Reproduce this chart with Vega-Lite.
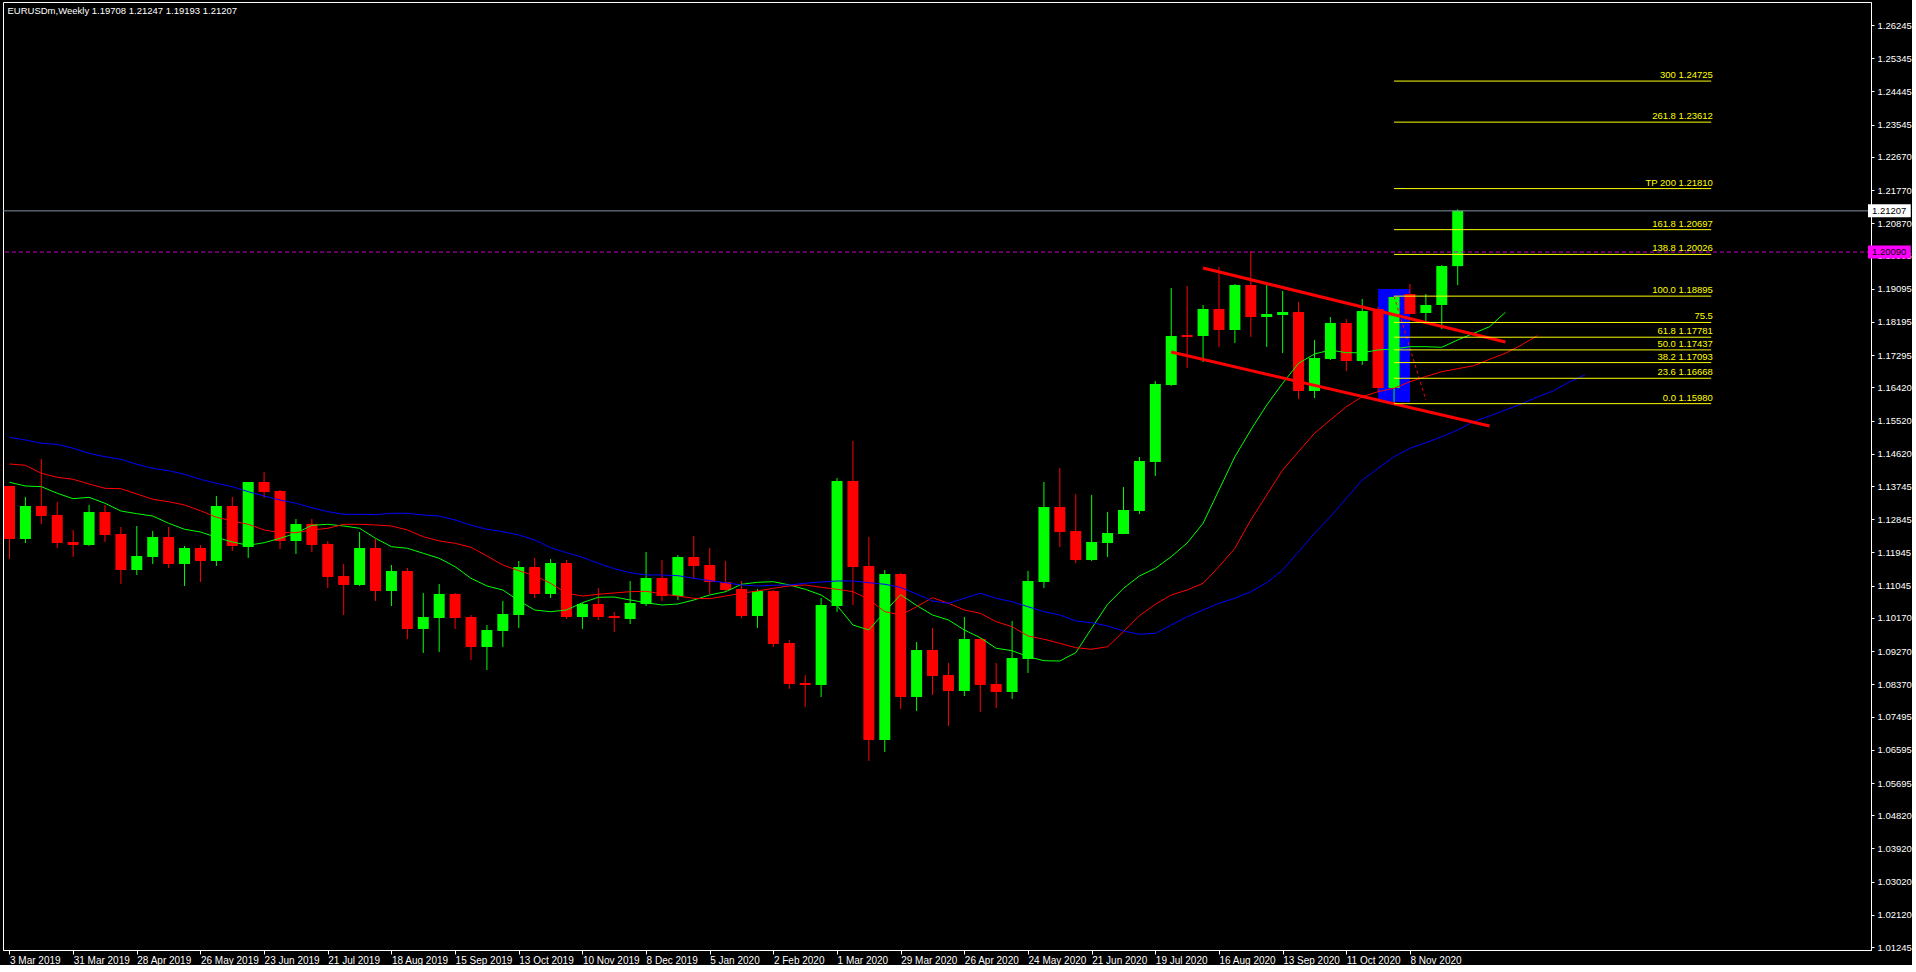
{
  "$schema": "https://vega.github.io/schema/vega-lite/v6.json",
  "width": 1868,
  "height": 948,
  "padding": {"left": 2, "top": 2, "right": 0, "bottom": 0},
  "background": "#000000",
  "config": {
    "view": {"stroke": "#ffffff", "strokeWidth": 1},
    "axis": {"domainColor": "#ffffff", "tickColor": "#ffffff", "labelColor": "#ffffff", "labelFont": "Liberation Sans", "labelFontSize": 9.5, "grid": false, "labelOverlap": false, "labelFlush": false, "labelSeparation": 0}
  },
  "title": {"text": "EURUSDm,Weekly  1.19708 1.21247 1.19193 1.21207", "anchor": "start", "orient": "top", "offset": -13, "dx": 5, "font": "Liberation Sans", "fontSize": 9.5, "fontWeight": "normal", "color": "#ffffff"},
  "datasets": {
    "candles": [
      {"d":"2019-03-03","o":1.13748,"h":1.13748,"l":1.11768,"c":1.12311},
      {"d":"2019-03-10","o":1.12311,"h":1.13449,"l":1.12202,"c":1.13205},
      {"d":"2019-03-17","o":1.13205,"h":1.14480,"l":1.12717,"c":1.12934},
      {"d":"2019-03-24","o":1.12961,"h":1.13314,"l":1.12067,"c":1.12202},
      {"d":"2019-03-31","o":1.12229,"h":1.12555,"l":1.11823,"c":1.12148},
      {"d":"2019-04-07","o":1.12148,"h":1.13232,"l":1.12121,"c":1.13043},
      {"d":"2019-04-14","o":1.13043,"h":1.13232,"l":1.12229,"c":1.12419},
      {"d":"2019-04-21","o":1.12446,"h":1.12636,"l":1.11091,"c":1.11470},
      {"d":"2019-04-28","o":1.11470,"h":1.12663,"l":1.11335,"c":1.11850},
      {"d":"2019-05-05","o":1.11823,"h":1.12528,"l":1.11633,"c":1.12365},
      {"d":"2019-05-12","o":1.12365,"h":1.12636,"l":1.11525,"c":1.11633},
      {"d":"2019-05-19","o":1.11633,"h":1.12121,"l":1.11037,"c":1.12067},
      {"d":"2019-05-26","o":1.12067,"h":1.12148,"l":1.11145,"c":1.11714},
      {"d":"2019-06-02","o":1.11714,"h":1.13476,"l":1.11579,"c":1.13205},
      {"d":"2019-06-09","o":1.13205,"h":1.13449,"l":1.11985,"c":1.12121},
      {"d":"2019-06-16","o":1.12094,"h":1.13856,"l":1.11796,"c":1.13856},
      {"d":"2019-06-23","o":1.13856,"h":1.14127,"l":1.13422,"c":1.13585},
      {"d":"2019-06-30","o":1.13612,"h":1.13639,"l":1.12040,"c":1.12257},
      {"d":"2019-07-07","o":1.12257,"h":1.12853,"l":1.11904,"c":1.12717},
      {"d":"2019-07-14","o":1.12717,"h":1.12853,"l":1.11958,"c":1.12148},
      {"d":"2019-07-21","o":1.12175,"h":1.12257,"l":1.10982,"c":1.11281},
      {"d":"2019-07-28","o":1.11308,"h":1.11633,"l":1.10250,"c":1.11064},
      {"d":"2019-08-04","o":1.11064,"h":1.12501,"l":1.11037,"c":1.12067},
      {"d":"2019-08-11","o":1.12067,"h":1.12311,"l":1.10630,"c":1.10901},
      {"d":"2019-08-18","o":1.10901,"h":1.11606,"l":1.10494,"c":1.11443},
      {"d":"2019-08-25","o":1.11443,"h":1.11525,"l":1.09600,"c":1.09871},
      {"d":"2019-09-01","o":1.09871,"h":1.10847,"l":1.09220,"c":1.10196},
      {"d":"2019-09-08","o":1.10169,"h":1.11091,"l":1.09247,"c":1.10820},
      {"d":"2019-09-15","o":1.10820,"h":1.10847,"l":1.09871,"c":1.10169},
      {"d":"2019-09-22","o":1.10196,"h":1.10250,"l":1.09030,"c":1.09383},
      {"d":"2019-09-29","o":1.09383,"h":1.09979,"l":1.08759,"c":1.09844},
      {"d":"2019-10-06","o":1.09817,"h":1.10630,"l":1.09383,"c":1.10278},
      {"d":"2019-10-13","o":1.10250,"h":1.11714,"l":1.09898,"c":1.11552},
      {"d":"2019-10-20","o":1.11552,"h":1.11796,"l":1.10711,"c":1.10820},
      {"d":"2019-10-27","o":1.10820,"h":1.11768,"l":1.10711,"c":1.11660},
      {"d":"2019-11-03","o":1.11660,"h":1.11741,"l":1.10142,"c":1.10196},
      {"d":"2019-11-10","o":1.10196,"h":1.10576,"l":1.09871,"c":1.10549},
      {"d":"2019-11-17","o":1.10549,"h":1.10982,"l":1.10115,"c":1.10196},
      {"d":"2019-11-24","o":1.10223,"h":1.10332,"l":1.09790,"c":1.10169},
      {"d":"2019-12-01","o":1.10142,"h":1.11172,"l":1.10006,"c":1.10576},
      {"d":"2019-12-08","o":1.10549,"h":1.11958,"l":1.10494,"c":1.11253},
      {"d":"2019-12-15","o":1.11253,"h":1.11741,"l":1.10630,"c":1.10765},
      {"d":"2019-12-22","o":1.10765,"h":1.11877,"l":1.10657,"c":1.11823},
      {"d":"2019-12-29","o":1.11823,"h":1.12392,"l":1.11226,"c":1.11579},
      {"d":"2020-01-05","o":1.11606,"h":1.12067,"l":1.10820,"c":1.11145},
      {"d":"2020-01-12","o":1.11145,"h":1.11714,"l":1.10874,"c":1.10928},
      {"d":"2020-01-19","o":1.10955,"h":1.11172,"l":1.10169,"c":1.10223},
      {"d":"2020-01-26","o":1.10223,"h":1.10955,"l":1.09898,"c":1.10901},
      {"d":"2020-02-02","o":1.10901,"h":1.10928,"l":1.09383,"c":1.09464},
      {"d":"2020-02-09","o":1.09491,"h":1.09573,"l":1.08244,"c":1.08380},
      {"d":"2020-02-16","o":1.08407,"h":1.08624,"l":1.07756,"c":1.08353},
      {"d":"2020-02-23","o":1.08353,"h":1.10711,"l":1.08027,"c":1.10521},
      {"d":"2020-03-01","o":1.10494,"h":1.13964,"l":1.10332,"c":1.13883},
      {"d":"2020-03-08","o":1.13883,"h":1.14968,"l":1.10521,"c":1.11552},
      {"d":"2020-03-15","o":1.11579,"h":1.12365,"l":1.06292,"c":1.06862},
      {"d":"2020-03-22","o":1.06862,"h":1.11470,"l":1.06536,"c":1.11362},
      {"d":"2020-03-29","o":1.11362,"h":1.11389,"l":1.07702,"c":1.08027},
      {"d":"2020-04-05","o":1.08027,"h":1.09518,"l":1.07648,"c":1.09302},
      {"d":"2020-04-12","o":1.09302,"h":1.09898,"l":1.08082,"c":1.08597},
      {"d":"2020-04-19","o":1.08624,"h":1.08949,"l":1.07241,"c":1.08190},
      {"d":"2020-04-26","o":1.08190,"h":1.10196,"l":1.08054,"c":1.09600},
      {"d":"2020-05-03","o":1.09600,"h":1.09627,"l":1.07621,"c":1.08353},
      {"d":"2020-05-10","o":1.08380,"h":1.08949,"l":1.07729,"c":1.08163},
      {"d":"2020-05-17","o":1.08163,"h":1.10088,"l":1.07973,"c":1.09085},
      {"d":"2020-05-24","o":1.09058,"h":1.11443,"l":1.08678,"c":1.11172},
      {"d":"2020-05-31","o":1.11145,"h":1.13856,"l":1.10982,"c":1.13178},
      {"d":"2020-06-07","o":1.13178,"h":1.14236,"l":1.12094,"c":1.12501},
      {"d":"2020-06-14","o":1.12528,"h":1.13531,"l":1.11660,"c":1.11741},
      {"d":"2020-06-21","o":1.11741,"h":1.13504,"l":1.11714,"c":1.12229},
      {"d":"2020-06-28","o":1.12202,"h":1.13043,"l":1.11823,"c":1.12473},
      {"d":"2020-07-05","o":1.12446,"h":1.13720,"l":1.12446,"c":1.13097},
      {"d":"2020-07-12","o":1.13070,"h":1.14534,"l":1.12989,"c":1.14425},
      {"d":"2020-07-19","o":1.14398,"h":1.16594,"l":1.14019,"c":1.16513},
      {"d":"2020-07-26","o":1.16486,"h":1.19115,"l":1.16459,"c":1.17814},
      {"d":"2020-08-02","o":1.17841,"h":1.19170,"l":1.16947,"c":1.17787},
      {"d":"2020-08-09","o":1.17814,"h":1.18654,"l":1.17109,"c":1.18546},
      {"d":"2020-08-16","o":1.18546,"h":1.19685,"l":1.17516,"c":1.17977},
      {"d":"2020-08-23","o":1.17977,"h":1.19224,"l":1.17624,"c":1.19197},
      {"d":"2020-08-30","o":1.19197,"h":1.20118,"l":1.17787,"c":1.18329},
      {"d":"2020-09-06","o":1.18329,"h":1.19197,"l":1.17516,"c":1.18410},
      {"d":"2020-09-13","o":1.18383,"h":1.19034,"l":1.17353,"c":1.18465},
      {"d":"2020-09-20","o":1.18465,"h":1.18736,"l":1.16106,"c":1.16323},
      {"d":"2020-09-27","o":1.16323,"h":1.17706,"l":1.16133,"c":1.17218},
      {"d":"2020-10-04","o":1.17191,"h":1.18329,"l":1.17164,"c":1.18167},
      {"d":"2020-10-11","o":1.18167,"h":1.18275,"l":1.16865,"c":1.17136},
      {"d":"2020-10-18","o":1.17136,"h":1.18817,"l":1.17028,"c":1.18492},
      {"d":"2020-10-25","o":1.18546,"h":1.18600,"l":1.16296,"c":1.16404},
      {"d":"2020-11-01","o":1.16404,"h":1.18895,"l":1.15980,"c":1.18870},
      {"d":"2020-11-08","o":1.18953,"h":1.19224,"l":1.18410,"c":1.18410},
      {"d":"2020-11-15","o":1.18438,"h":1.18953,"l":1.18194,"c":1.18654},
      {"d":"2020-11-22","o":1.18654,"h":1.19739,"l":1.18004,"c":1.19712},
      {"d":"2020-11-29","o":1.19708,"h":1.21247,"l":1.19193,"c":1.21207}
    ],
    "alligator": [
      {"d":"2019-03-03","g":1.13848,"r":1.14344,"b":1.15068},
      {"d":"2019-03-10","g":1.13748,"r":1.14309,"b":1.14995},
      {"d":"2019-03-17","g":1.13729,"r":1.14092,"b":1.14905},
      {"d":"2019-03-24","g":1.13550,"r":1.13983,"b":1.14878},
      {"d":"2019-03-31","g":1.13403,"r":1.13929,"b":1.14770},
      {"d":"2019-04-07","g":1.13441,"r":1.13802,"b":1.14634},
      {"d":"2019-04-14","g":1.13279,"r":1.13685,"b":1.14542},
      {"d":"2019-04-21","g":1.13070,"r":1.13674,"b":1.14471},
      {"d":"2019-04-28","g":1.12997,"r":1.13531,"b":1.14336},
      {"d":"2019-05-05","g":1.12934,"r":1.13387,"b":1.14227},
      {"d":"2019-05-12","g":1.12736,"r":1.13322,"b":1.14162},
      {"d":"2019-05-19","g":1.12574,"r":1.13232,"b":1.14065},
      {"d":"2019-05-26","g":1.12501,"r":1.13078,"b":1.13929},
      {"d":"2019-06-02","g":1.12357,"r":1.12899,"b":1.13821},
      {"d":"2019-06-09","g":1.12229,"r":1.12799,"b":1.13729},
      {"d":"2019-06-16","g":1.12140,"r":1.12709,"b":1.13593},
      {"d":"2019-06-23","g":1.12210,"r":1.12555,"b":1.13476},
      {"d":"2019-06-30","g":1.12330,"r":1.12482,"b":1.13368},
      {"d":"2019-07-07","g":1.12465,"r":1.12482,"b":1.13279},
      {"d":"2019-07-14","g":1.12682,"r":1.12555,"b":1.13159},
      {"d":"2019-07-21","g":1.12709,"r":1.12601,"b":1.13051},
      {"d":"2019-07-28","g":1.12663,"r":1.12709,"b":1.12980},
      {"d":"2019-08-04","g":1.12601,"r":1.12709,"b":1.12980},
      {"d":"2019-08-11","g":1.12330,"r":1.12690,"b":1.12970},
      {"d":"2019-08-18","g":1.12102,"r":1.12663,"b":1.13007},
      {"d":"2019-08-25","g":1.12059,"r":1.12555,"b":1.13007},
      {"d":"2019-09-01","g":1.11923,"r":1.12373,"b":1.12961},
      {"d":"2019-09-08","g":1.11788,"r":1.12257,"b":1.12934},
      {"d":"2019-09-15","g":1.11560,"r":1.12194,"b":1.12826},
      {"d":"2019-09-22","g":1.11245,"r":1.12086,"b":1.12682},
      {"d":"2019-09-29","g":1.11037,"r":1.11850,"b":1.12574},
      {"d":"2019-10-06","g":1.10928,"r":1.11606,"b":1.12509},
      {"d":"2019-10-13","g":1.10638,"r":1.11451,"b":1.12419},
      {"d":"2019-10-20","g":1.10386,"r":1.11316,"b":1.12284},
      {"d":"2019-10-27","g":1.10340,"r":1.11110,"b":1.12075},
      {"d":"2019-11-03","g":1.10386,"r":1.10839,"b":1.11939},
      {"d":"2019-11-10","g":1.10584,"r":1.10765,"b":1.11815},
      {"d":"2019-11-17","g":1.10730,"r":1.10812,"b":1.11652},
      {"d":"2019-11-24","g":1.10738,"r":1.10847,"b":1.11506},
      {"d":"2019-12-01","g":1.10657,"r":1.10882,"b":1.11397},
      {"d":"2019-12-08","g":1.10584,"r":1.10893,"b":1.11335},
      {"d":"2019-12-15","g":1.10521,"r":1.10820,"b":1.11335},
      {"d":"2019-12-22","g":1.10549,"r":1.10765,"b":1.11316},
      {"d":"2019-12-29","g":1.10657,"r":1.10703,"b":1.11245},
      {"d":"2020-01-05","g":1.10793,"r":1.10692,"b":1.11180},
      {"d":"2020-01-12","g":1.10882,"r":1.10765,"b":1.11126},
      {"d":"2020-01-19","g":1.11083,"r":1.10839,"b":1.11064},
      {"d":"2020-01-26","g":1.11137,"r":1.10901,"b":1.11037},
      {"d":"2020-02-02","g":1.11153,"r":1.10974,"b":1.11056},
      {"d":"2020-02-09","g":1.11064,"r":1.11037,"b":1.11064},
      {"d":"2020-02-16","g":1.10947,"r":1.11064,"b":1.11110},
      {"d":"2020-02-23","g":1.10793,"r":1.11001,"b":1.11145},
      {"d":"2020-03-01","g":1.10508,"r":1.10947,"b":1.11172},
      {"d":"2020-03-08","g":1.09979,"r":1.10882,"b":1.11172},
      {"d":"2020-03-15","g":1.09844,"r":1.10676,"b":1.11126},
      {"d":"2020-03-22","g":1.10340,"r":1.10340,"b":1.11083},
      {"d":"2020-03-29","g":1.10801,"r":1.10250,"b":1.10996},
      {"d":"2020-04-05","g":1.10508,"r":1.10475,"b":1.10820},
      {"d":"2020-04-12","g":1.10250,"r":1.10719,"b":1.10630},
      {"d":"2020-04-19","g":1.10115,"r":1.10568,"b":1.10568},
      {"d":"2020-04-26","g":1.09844,"r":1.10386,"b":1.10703},
      {"d":"2020-05-03","g":1.09635,"r":1.10296,"b":1.10839},
      {"d":"2020-05-10","g":1.09348,"r":1.10069,"b":1.10703},
      {"d":"2020-05-17","g":1.09283,"r":1.09933,"b":1.10611},
      {"d":"2020-05-24","g":1.09120,"r":1.09681,"b":1.10475},
      {"d":"2020-05-31","g":1.09011,"r":1.09592,"b":1.10340},
      {"d":"2020-06-07","g":1.09003,"r":1.09483,"b":1.10250},
      {"d":"2020-06-14","g":1.09228,"r":1.09364,"b":1.10088},
      {"d":"2020-06-21","g":1.09890,"r":1.09321,"b":1.10042},
      {"d":"2020-06-28","g":1.10540,"r":1.09391,"b":1.09952},
      {"d":"2020-07-05","g":1.10974,"r":1.09798,"b":1.09817},
      {"d":"2020-07-12","g":1.11308,"r":1.10231,"b":1.09727},
      {"d":"2020-07-19","g":1.11516,"r":1.10540,"b":1.09754},
      {"d":"2020-07-26","g":1.11831,"r":1.10793,"b":1.09979},
      {"d":"2020-08-02","g":1.12202,"r":1.10928,"b":1.10204},
      {"d":"2020-08-09","g":1.12736,"r":1.11110,"b":1.10386},
      {"d":"2020-08-16","g":1.13639,"r":1.11560,"b":1.10568},
      {"d":"2020-08-23","g":1.14542,"r":1.12059,"b":1.10703},
      {"d":"2020-08-30","g":1.15266,"r":1.12826,"b":1.10882},
      {"d":"2020-09-06","g":1.15943,"r":1.13504,"b":1.11126},
      {"d":"2020-09-13","g":1.16532,"r":1.14181,"b":1.11470},
      {"d":"2020-09-20","g":1.17074,"r":1.14677,"b":1.11966},
      {"d":"2020-09-27","g":1.17326,"r":1.15176,"b":1.12465},
      {"d":"2020-10-04","g":1.17435,"r":1.15537,"b":1.12915},
      {"d":"2020-10-11","g":1.17361,"r":1.15897,"b":1.13414},
      {"d":"2020-10-18","g":1.17361,"r":1.16168,"b":1.13910},
      {"d":"2020-10-25","g":1.17435,"r":1.16304,"b":1.14227},
      {"d":"2020-11-01","g":1.17462,"r":1.16396,"b":1.14542},
      {"d":"2020-11-08","g":1.17524,"r":1.16575,"b":1.14770},
      {"d":"2020-11-15","g":1.17524,"r":1.16716,"b":1.14921},
      {"d":"2020-11-22","g":1.17508,"r":1.16846,"b":1.15084},
      {"d":"2020-11-29","g":1.17706,"r":1.16928,"b":1.15266},
      {"d":"2020-12-06","g":1.17887,"r":1.17009,"b":1.15491},
      {"d":"2020-12-13","g":1.18066,"r":1.17182,"b":1.15645},
      {"d":"2020-12-20","g":1.18457,"r":1.17345,"b":1.15808},
      {"d":"2020-12-27","r":1.17570,"b":1.15971},
      {"d":"2021-01-03","r":1.17822,"b":1.16160},
      {"d":"2021-01-10","b":1.16323},
      {"d":"2021-01-17","b":1.16567},
      {"d":"2021-01-24","b":1.16757}
    ],
    "fib": [
      {"p":1.24725,"t":"300 1.24725"},
      {"p":1.23612,"t":"261.8 1.23612"},
      {"p":1.21810,"t":"TP 200 1.21810"},
      {"p":1.20697,"t":"161.8 1.20697"},
      {"p":1.20026,"t":"138.8 1.20026"},
      {"p":1.18895,"t":"100.0 1.18895"},
      {"p":1.18181,"t":"75.5"},
      {"p":1.17781,"t":"61.8 1.17781"},
      {"p":1.17437,"t":"50.0 1.17437"},
      {"p":1.17093,"t":"38.2 1.17093"},
      {"p":1.16668,"t":"23.6 1.16668"},
      {"p":1.15980,"t":"0.0 1.15980"}
    ],
    "channel": [
      {"g":"upper","d":"2020-08-09","p":1.19658},
      {"g":"upper","d":"2020-12-20","p":1.17651},
      {"g":"lower","d":"2020-07-26","p":1.17380},
      {"g":"lower","d":"2020-12-13","p":1.15374}
    ],
    "fibline": [
      {"d":"2020-11-01","p":1.18895},
      {"d":"2020-11-15","p":1.16079}
    ],
    "box": [
      {"d1":"2020-10-25","d2":"2020-11-08","p1":1.19088,"p2":1.16025}
    ],
    "tags": [
      {"p":1.21207,"t":"1.21207","k":"price"},
      {"p":1.20090,"t":"1.20090","k":"line"}
    ]
  },
  "layer": [
    {
      "data": {"name": "box"},
      "mark": {"type": "rect", "color": "#0000ff"},
      "encoding": {
        "x": {"field": "d1", "type": "temporal", "scale": {"type": "utc", "domain": [{"year":2019,"month":3,"date":2,"hours":8,"minutes":15,"utc":true},{"year":2021,"month":5,"date":27,"hours":14,"minutes":15,"utc":true}]},
          "axis": {"title": null, "tickCount": 60, "values": [
            {"year":2019,"month":3,"date":3,"utc":true},{"year":2019,"month":3,"date":31,"utc":true},{"year":2019,"month":4,"date":28,"utc":true},{"year":2019,"month":5,"date":26,"utc":true},{"year":2019,"month":6,"date":23,"utc":true},{"year":2019,"month":7,"date":21,"utc":true},{"year":2019,"month":8,"date":18,"utc":true},{"year":2019,"month":9,"date":15,"utc":true},{"year":2019,"month":10,"date":13,"utc":true},{"year":2019,"month":11,"date":10,"utc":true},{"year":2019,"month":12,"date":8,"utc":true},{"year":2020,"month":1,"date":5,"utc":true},{"year":2020,"month":2,"date":2,"utc":true},{"year":2020,"month":3,"date":1,"utc":true},{"year":2020,"month":3,"date":29,"utc":true},{"year":2020,"month":4,"date":26,"utc":true},{"year":2020,"month":5,"date":24,"utc":true},{"year":2020,"month":6,"date":21,"utc":true},{"year":2020,"month":7,"date":19,"utc":true},{"year":2020,"month":8,"date":16,"utc":true},{"year":2020,"month":9,"date":13,"utc":true},{"year":2020,"month":10,"date":11,"utc":true},{"year":2020,"month":11,"date":8,"utc":true}],
            "format": "%-d %b %Y", "tickSize": 4, "labelPadding": 1, "labelAlign": "left", "labelBaseline": "top", "labelFontSize": 10, "labelOverlap": false}},
        "x2": {"field": "d2"},
        "y": {"field": "p1", "type": "quantitative", "scale": {"domain": [1.01168, 1.26869], "zero": false, "nice": false},
          "axis": {"title": null, "orient": "right", "tickCount": 60, "values": [1.26245,1.25345,1.24445,1.23545,1.22670,1.21770,1.20870,1.19995,1.19095,1.18195,1.17295,1.16420,1.15520,1.14620,1.13745,1.12845,1.11945,1.11045,1.10170,1.09270,1.08370,1.07495,1.06595,1.05695,1.04820,1.03920,1.03020,1.02120,1.01245],
            "format": ".5f", "tickSize": 3, "labelPadding": 3, "labelAlign": "left", "labelBaseline": "middle", "labelOverlap": false, "labelSeparation": 0}},
        "y2": {"field": "p2"}
      }
    },
    {
      "data": {"name": "candles"},
      "mark": {"type": "rule", "strokeWidth": 1, "clip": true},
      "encoding": {
        "x": {"field": "d", "type": "temporal", "axis": {"title": null, "orient": "bottom", "labelOverlap": false}},
        "y": {"field": "l", "type": "quantitative", "axis": {"title": null, "orient": "right", "labelOverlap": false}},
        "y2": {"field": "h"},
        "color": {"condition": {"test": "datum.c >= datum.o", "value": "#00ff00"}, "value": "#ff0000"}
      }
    },
    {
      "data": {"name": "candles"},
      "mark": {"type": "bar", "width": 11, "clip": true},
      "encoding": {
        "x": {"field": "d", "type": "temporal", "axis": {"title": null, "orient": "bottom", "labelOverlap": false}},
        "y": {"field": "o", "type": "quantitative", "axis": {"title": null, "orient": "right", "labelOverlap": false}},
        "y2": {"field": "c"},
        "color": {"condition": {"test": "datum.c >= datum.o", "value": "#00ff00"}, "value": "#ff0000"}
      }
    },
    {
      "data": {"name": "alligator"},
      "transform": [
        {"fold": ["g", "r", "b"], "as": ["s", "v"]},
        {"filter": "isValid(datum.v)"}
      ],
      "mark": {"type": "line", "strokeWidth": 1, "clip": true},
      "encoding": {
        "x": {"field": "d", "type": "temporal", "axis": {"title": null, "orient": "bottom", "labelOverlap": false}},
        "y": {"field": "v", "type": "quantitative", "axis": {"title": null, "orient": "right", "labelOverlap": false}},
        "color": {"field": "s", "type": "nominal", "scale": {"domain": ["g", "r", "b"], "range": ["#00ff00", "#ff0000", "#0000ff"]}, "legend": null}
      }
    },
    {
      "data": {"name": "channel"},
      "mark": {"type": "line", "strokeWidth": 3, "color": "#ff0000"},
      "encoding": {
        "x": {"field": "d", "type": "temporal", "axis": {"title": null, "orient": "bottom", "labelOverlap": false}},
        "y": {"field": "p", "type": "quantitative", "axis": {"title": null, "orient": "right", "labelOverlap": false}},
        "detail": {"field": "g"}
      }
    },
    {
      "data": {"name": "fibline"},
      "mark": {"type": "line", "strokeWidth": 1, "color": "#ff0000", "strokeDash": [3, 3]},
      "encoding": {
        "x": {"field": "d", "type": "temporal", "axis": {"title": null, "orient": "bottom", "labelOverlap": false}},
        "y": {"field": "p", "type": "quantitative", "axis": {"title": null, "orient": "right", "labelOverlap": false}}
      }
    },
    {
      "data": {"name": "fib"},
      "mark": {"type": "rule", "strokeWidth": 1, "color": "#ffff00"},
      "encoding": {
        "x": {"datum": {"year":2020,"month":11,"date":1,"utc":true}, "type": "temporal", "axis": {"title": null, "orient": "bottom", "labelOverlap": false}},
        "x2": {"datum": {"year":2021,"month":3,"date":20,"hours":12,"utc":true}},
        "y": {"field": "p", "type": "quantitative", "axis": {"title": null, "orient": "right", "labelOverlap": false}}
      }
    },
    {
      "data": {"name": "fib"},
      "mark": {"type": "text", "align": "right", "baseline": "bottom", "dy": -1, "font": "Liberation Sans", "fontSize": 9.5, "color": "#ffff00"},
      "encoding": {
        "x": {"datum": {"year":2021,"month":3,"date":21,"hours":6,"utc":true}, "type": "temporal", "axis": {"title": null, "orient": "bottom", "labelOverlap": false}},
        "y": {"field": "p", "type": "quantitative", "axis": {"title": null, "orient": "right", "labelOverlap": false}},
        "text": {"field": "t"}
      }
    },
    {
      "data": {"name": "tags"},
      "transform": [{"filter": "datum.k == 'price'"}],
      "mark": {"type": "rule", "strokeWidth": 1, "color": "#8090a0"},
      "encoding": {
        "y": {"field": "p", "type": "quantitative", "axis": {"title": null, "orient": "right", "labelOverlap": false}}
      }
    },
    {
      "data": {"name": "tags"},
      "transform": [{"filter": "datum.k == 'line'"}],
      "mark": {"type": "rule", "strokeWidth": 1, "color": "#cc00cc", "strokeDash": [4, 3]},
      "encoding": {
        "y": {"field": "p", "type": "quantitative", "axis": {"title": null, "orient": "right", "labelOverlap": false}}
      }
    },
    {
      "data": {"name": "tags"},
      "mark": {"type": "rect", "yOffset": -6.5, "y2Offset": 6.5},
      "encoding": {
        "x": {"datum": {"year":2021,"month":5,"date":28,"hours":11,"minutes":15,"utc":true}, "type": "temporal", "axis": {"title": null, "orient": "bottom", "labelOverlap": false}},
        "x2": {"datum": {"year":2021,"month":6,"date":16,"hours":6,"minutes":45,"utc":true}},
        "y": {"field": "p", "type": "quantitative", "axis": {"title": null, "orient": "right", "labelOverlap": false}},
        "y2": {"field": "p"},
        "color": {"condition": {"test": "datum.k == 'price'", "value": "#ffffff"}, "value": "#ff00ff"}
      }
    },
    {
      "data": {"name": "tags"},
      "mark": {"type": "text", "align": "left", "baseline": "middle", "font": "Liberation Sans", "fontSize": 9.5, "color": "#000000"},
      "encoding": {
        "x": {"datum": {"year":2021,"month":5,"date":30,"hours":5,"minutes":15,"utc":true}, "type": "temporal", "axis": {"title": null, "orient": "bottom", "labelOverlap": false}},
        "y": {"field": "p", "type": "quantitative", "axis": {"title": null, "orient": "right", "labelOverlap": false}},
        "text": {"field": "t"}
      }
    }
  ]
}
